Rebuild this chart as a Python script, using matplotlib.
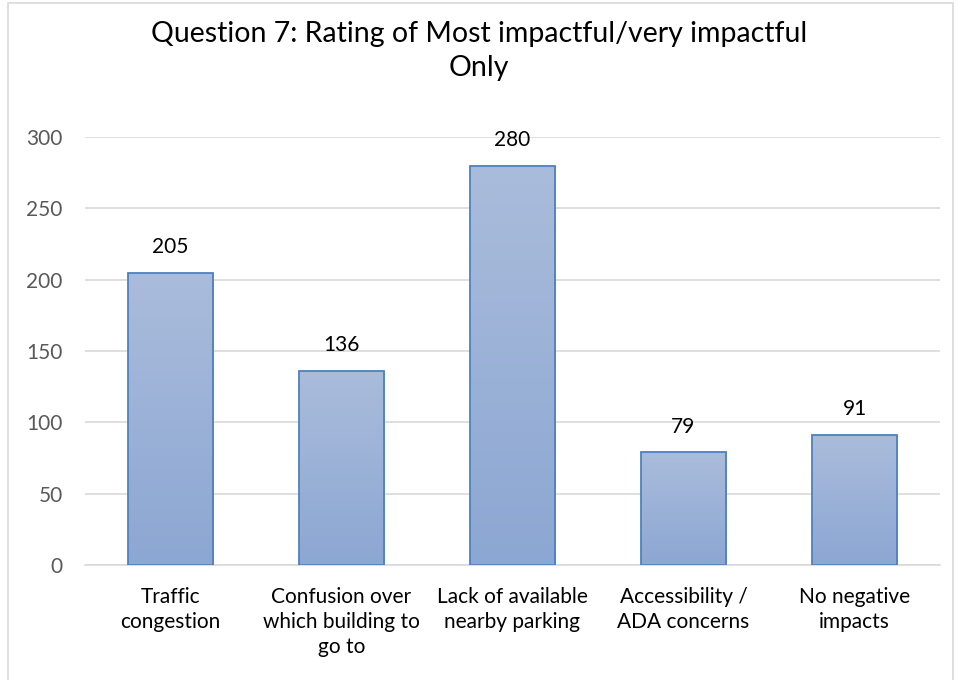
import matplotlib.pyplot as plt
import numpy as np
from matplotlib.colors import LinearSegmentedColormap
from matplotlib.patches import Rectangle

# data
categories = ['Traffic\ncongestion', 'Confusion over\nwhich building to\ngo to',
              'Lack of available\nnearby parking', 'Accessibility /\nADA concerns',
              'No negative\nimpacts']
counts = [205, 136, 280, 79, 91]
yticks = [0, 50, 100, 150, 200, 250, 300]

plt.rcParams['font.family'] = ['Lato', 'DejaVu Sans']

fig = plt.figure(figsize=(9.58, 6.8), dpi=100)
ax = fig.add_axes([85 / 958, 115 / 680, 855 / 958, 428 / 680])

# outer chart border
fig.patches.append(Rectangle((8 / 958, -0.01), 945 / 958, 0.006 + 1.0, transform=fig.transFigure,
                             fill=False, edgecolor='#d9d9d9', linewidth=1.2))

x = np.arange(len(categories))
bars = ax.bar(x, counts, width=0.5, color='none', edgecolor='#4f81bd', linewidth=1.3, zorder=3)

# vertical gradient fill for each bar
cmap = LinearSegmentedColormap.from_list('grad', ['#8ca7d3', '#aabcdb'])
grad = np.linspace(0, 1, 256).reshape(-1, 1)
for b in bars:
    x0, y0 = b.get_x(), b.get_y()
    w, h = b.get_width(), b.get_height()
    im = ax.imshow(grad, cmap=cmap, origin='lower', aspect='auto',
                   extent=[x0, x0 + w, y0, y0 + h], zorder=2)
    im.set_clip_path(b)

for xi, v in zip(x, counts):
    ax.text(xi, v + 11, str(v), ha='center', va='bottom', fontsize=15, color='black')

ax.set_xlim(-0.5, len(categories) - 0.5)
ax.set_ylim(0, 300)
ax.set_yticks(yticks)
ax.set_xticks(x)
ax.set_xticklabels(categories, fontsize=15, linespacing=1.32)
ax.tick_params(axis='y', labelsize=15, labelcolor='#595959', length=0, pad=16)
ax.tick_params(axis='x', length=0, pad=16)
ax.grid(axis='y', color='#d9d9d9', linewidth=1.2, zorder=0)
ax.set_axisbelow(True)
for s in ['top', 'right', 'left']:
    ax.spines[s].set_visible(False)
ax.spines['bottom'].set_color('#d9d9d9')
ax.spines['bottom'].set_linewidth(1.2)

fig.text(0.5, 1 - 51 / 680, 'Question 7: Rating of Most impactful/very impactful\nOnly',
         ha='center', va='center', fontsize=20.5, linespacing=1.4)

plt.savefig('out.png', dpi=100)
